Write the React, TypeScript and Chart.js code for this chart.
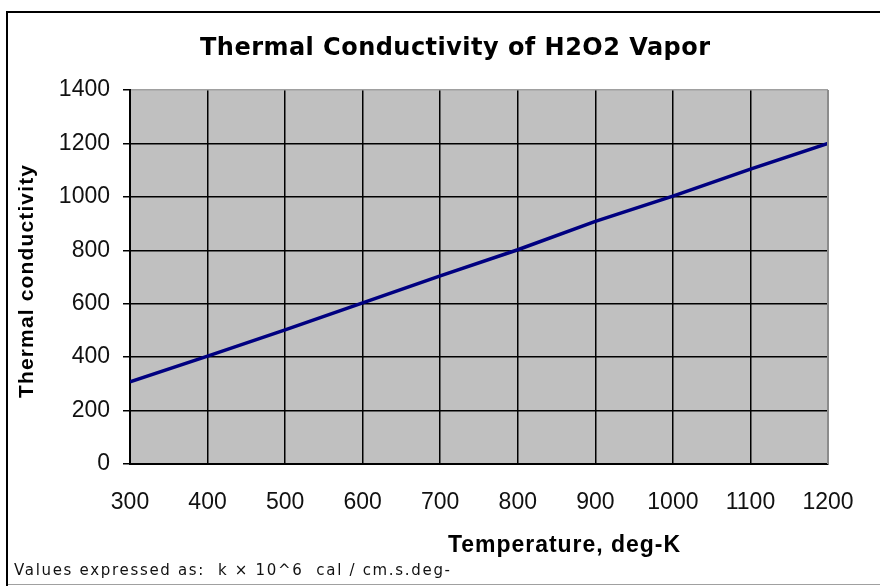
import React, { useEffect, useRef } from "react";
import { Chart, registerables } from "chart.js";

Chart.register(...registerables);

const temperatures = [300, 400, 500, 600, 700, 800, 900, 1000, 1100, 1200];
const conductivity = [308, 404, 502, 603, 704, 802, 908, 1003, 1104, 1200];
const titleText = "Thermal Conductivity of H2O2 Vapor";
const xTitleText = "Temperature, deg-K";
const yTitleText = "Thermal conductivity";
const footnoteText = "Values expressed as:  k \u00d7 10^6  cal / cm.s.deg-";

const W = 880;
const H = 586;

function fitText(ctx: CanvasRenderingContext2D, text: string, target: number) {
  (ctx as any).letterSpacing = "0px";
  const w = ctx.measureText(text).width;
  const n = text.length;
  const s = n > 1 ? (target - w) / (n - 1) : 0;
  (ctx as any).letterSpacing = s + "px";
}

const decorPlugin = {
  id: "decor",
  beforeDraw(chart: any) {
    const { ctx, chartArea } = chart;
    ctx.save();
    ctx.fillStyle = "#ffffff";
    ctx.fillRect(0, 0, W, H);
    ctx.fillStyle = "#c0c0c0";
    ctx.fillRect(chartArea.left, chartArea.top, chartArea.right - chartArea.left, chartArea.bottom - chartArea.top);
    ctx.restore();
  },
  afterDraw(chart: any) {
    const { ctx, chartArea } = chart;
    ctx.save();
    ctx.strokeStyle = "#8c8c8c";
    ctx.lineWidth = 2;
    ctx.beginPath();
    ctx.moveTo(chartArea.right, chartArea.top);
    ctx.lineTo(chartArea.right, chartArea.bottom);
    ctx.stroke();
    ctx.strokeStyle = "#000";
    ctx.lineWidth = 2;
    ctx.beginPath();
    ctx.moveTo(7, H);
    ctx.lineTo(7, 12);
    ctx.lineTo(W, 12);
    ctx.stroke();
    ctx.strokeStyle = "#a0a0a0";
    ctx.lineWidth = 1;
    ctx.beginPath();
    ctx.moveTo(8, 584.5);
    ctx.lineTo(W, 584.5);
    ctx.stroke();

    ctx.fillStyle = "#000";
    ctx.textBaseline = "alphabetic";
    ctx.textAlign = "left";
    ctx.font = "bold 24px 'DejaVu Sans', sans-serif";
    fitText(ctx, titleText, 510);
    ctx.fillText(titleText, 200, 55);
    ctx.font = "bold 23px 'Liberation Sans', Arial, sans-serif";
    fitText(ctx, xTitleText, 232);
    ctx.fillText(xTitleText, 448, 552);
    ctx.save();
    ctx.translate(33, 398);
    ctx.rotate(-Math.PI / 2);
    ctx.font = "bold 21px 'Liberation Sans', Arial, sans-serif";
    fitText(ctx, yTitleText, 233);
    ctx.fillText(yTitleText, 0, 0);
    ctx.restore();
    ctx.fillStyle = "#111";
    ctx.font = "15px 'DejaVu Sans', sans-serif";
    fitText(ctx, footnoteText, 436);
    ctx.fillText(footnoteText, 14, 575);
    (ctx as any).letterSpacing = "0px";
    ctx.restore();
  },
};

export default function App() {
  const ref = useRef<HTMLCanvasElement | null>(null);
  useEffect(() => {
    if (!ref.current) return;
    const chart = new Chart(ref.current, {
      type: "line",
      data: {
        datasets: [
          {
            data: temperatures.map((t, i) => ({ x: t, y: conductivity[i] })),
            borderColor: "#000080",
            borderWidth: 3.5,
            pointRadius: 0,
            tension: 0,
            fill: false,
          },
        ],
      },
      options: {
        animation: false,
        responsive: false,
        devicePixelRatio: 1,
        layout: { padding: { top: 90, left: 0, right: 52, bottom: 0 } },
        plugins: { legend: { display: false }, title: { display: false }, tooltip: { enabled: false } },
        scales: {
          x: {
            type: "linear",
            min: 300,
            max: 1200,
            afterFit: (s: any) => {
              s.height = 122;
            },
            ticks: {
              stepSize: 100,
              padding: 25,
              color: "#111",
              font: { family: "'Liberation Sans', Arial, sans-serif", size: 23 },
              maxRotation: 0,
              callback: (v: any) => String(v),
            },
            grid: {
              color: (c: any) => (c.tick && c.tick.value === 1200 ? "#8c8c8c" : "#000"),
              lineWidth: 1.5,
              drawTicks: false,
              tickLength: 0,
            },
            border: { color: "#000", width: 2 },
          },
          y: {
            type: "linear",
            min: 0,
            max: 1400,
            afterFit: (s: any) => {
              s.width = 130;
            },
            ticks: {
              stepSize: 200,
              padding: 13,
              color: "#111",
              font: { family: "'Liberation Sans', Arial, sans-serif", size: 23 },
              callback: (v: any) => String(v),
            },
            grid: {
              color: (c: any) => (c.tick && c.tick.value === 1400 ? "#a0a0a0" : "#000"),
              tickColor: "#000",
              lineWidth: 1.5,
              drawTicks: true,
              tickLength: 7,
            },
            border: { color: "#000", width: 2 },
          },
        },
      },
      plugins: [decorPlugin],
    } as any);
    return () => chart.destroy();
  }, []);
  return (
    <div style={{ position: "absolute", left: 0, top: 0, width: W, height: H, background: "#fff" }}>
      <canvas ref={ref} width={W} height={H} style={{ display: "block", width: W, height: H }} />
    </div>
  );
}
